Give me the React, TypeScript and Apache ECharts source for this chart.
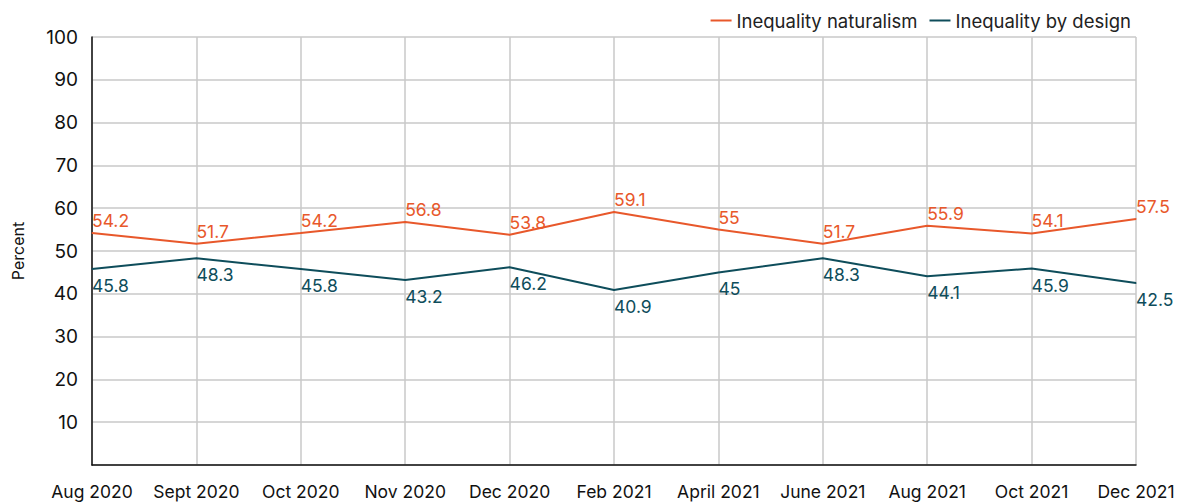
import React, { useEffect, useRef } from "react";
import * as echarts from "echarts";

const categories = ["Aug 2020", "Sept 2020", "Oct 2020", "Nov 2020", "Dec 2020", "Feb 2021", "April 2021", "June 2021", "Aug 2021", "Oct 2021", "Dec 2021"];
const naturalism = [54.2, 51.7, 54.2, 56.8, 53.8, 59.1, 55, 51.7, 55.9, 54.1, 57.5];
const byDesign = [45.8, 48.3, 45.8, 43.2, 46.2, 40.9, 45, 48.3, 44.1, 45.9, 42.5];

const ORANGE = "#e8582b";
const TEAL = "#0e4d5b";
const FONT = "Inter, 'Noto Sans', sans-serif";

export default function App() {
  const ref = useRef<HTMLDivElement>(null);
  useEffect(() => {
    const chart = echarts.init(ref.current!, null, { renderer: "svg" });
    chart.setOption({
      animation: false,
      textStyle: { fontFamily: FONT },
      legend: {
        top: 6,
        right: 44,
        itemWidth: 21,
        itemHeight: 2,
        itemGap: 12,
        textStyle: { fontSize: 18.5, color: "#222", fontFamily: FONT },
        data: [
          { name: "Inequality naturalism", icon: "rect" },
          { name: "Inequality by design", icon: "rect" },
        ],
      },
      grid: { left: 92, right: 44, top: 37, bottom: 37, containLabel: false, outerBoundsMode: "none" },
      xAxis: {
        type: "category",
        data: categories,
        boundaryGap: false,
        axisLine: { lineStyle: { color: "#111", width: 1.5 } },
        axisTick: { show: false },
        splitLine: { show: true, lineStyle: { color: "#c8c8c8", width: 1.5 } },
        axisLabel: { color: "#111", fontSize: 17.5, margin: 17, fontFamily: FONT, interval: 0 },
      },
      yAxis: {
        type: "value",
        min: 0,
        max: 100,
        interval: 10,
        name: "Percent",
        nameLocation: "middle",
        nameGap: 66,
        nameTextStyle: { color: "#111", fontSize: 16, fontFamily: FONT },
        axisLine: { show: true, lineStyle: { color: "#111", width: 1.5 } },
        axisTick: { show: false },
        splitLine: { lineStyle: { color: "#c8c8c8", width: 1.5 } },
        axisLabel: { color: "#111", fontSize: 19, margin: 14, showMinLabel: false, fontFamily: FONT },
      },
      series: [
        {
          name: "Inequality naturalism",
          type: "line",
          data: naturalism,
          symbol: "circle",
          symbolSize: 1,
          lineStyle: { color: ORANGE, width: 2 },
          itemStyle: { color: ORANGE },
          label: {
            show: true,
            position: "top",
            align: "left",
            distance: 3,
            color: ORANGE,
            fontSize: 17.5,
            fontFamily: FONT,
          },
        },
        {
          name: "Inequality by design",
          type: "line",
          data: byDesign,
          symbol: "circle",
          symbolSize: 1,
          lineStyle: { color: TEAL, width: 2 },
          itemStyle: { color: TEAL },
          label: {
            show: true,
            position: "bottom",
            align: "left",
            distance: 7,
            color: TEAL,
            fontSize: 17.5,
            fontFamily: FONT,
          },
        },
      ],
    });
    return () => chart.dispose();
  }, []);
  return <div ref={ref} style={{ width: 1180, height: 502, position: "absolute", left: 0, top: 0 }} />;
}
